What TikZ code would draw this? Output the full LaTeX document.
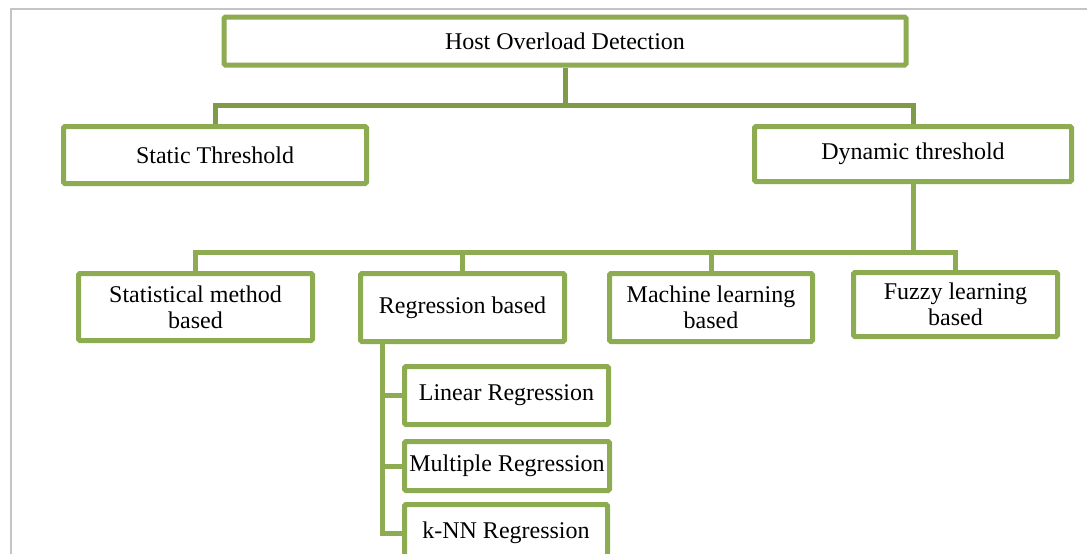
\documentclass[tikz,border=0pt]{standalone}
\usepackage{fontspec}
\setmainfont{Liberation Serif}
\definecolor{boxgreen}{HTML}{8DAB50}
\definecolor{dkgreen}{HTML}{7F9B48}
\definecolor{framegray}{HTML}{C4C4C4}
\begin{document}
\begin{tikzpicture}[x=1pt,y=-1pt,
  box/.style={draw=boxgreen, line width=5pt, rounded corners=1.5pt, fill=white,
    inner sep=0pt, align=center, font=\fontsize{24}{26}\selectfont},
  conn/.style={draw=boxgreen, line width=5pt},
  topconn/.style={draw=dkgreen, line width=5pt}]
\useasboundingbox (0,0) rectangle (1087,554);
\clip (0,0) rectangle (1087,554);
\draw[framegray, line width=1.5pt] (11,560) -- (11,9) -- (1090,9);

\node[box, minimum width=682pt, minimum height=48pt] (root) at (565,41) {Host Overload Detection};
\node[box, minimum width=303pt, minimum height=57pt] (static) at (215,155) {Static Threshold};
\node[box, minimum width=317pt, minimum height=55pt] (dynamic) at (913,154) {Dynamic threshold};

\node[box, minimum width=234pt, minimum height=67pt] (stat) at (195.5,307) {Statistical method\\based};
\node[box, minimum width=204pt, minimum height=68pt] (regr) at (462.5,307.5) {Regression based};
\node[box, minimum width=203pt, minimum height=68pt] (mach) at (711,307.5) {Machine learning\\based};
\node[box, minimum width=204pt, minimum height=64pt] (fuzzy) at (955.5,304.5) {Fuzzy learning\\based};

\node[box, minimum width=204pt, minimum height=58pt] (linear) at (506.5,395.5) {Linear Regression};
\node[box, minimum width=205pt, minimum height=49pt] (multiple) at (507,466) {Multiple Regression};
\node[box, minimum width=203pt, minimum height=57pt] (knn) at (506,533) {k-NN Regression};

\coordinate (b1) at (565,105);
\coordinate (b2) at (913,252);
\coordinate (r0) at (382,341.5);

\draw[topconn] (root.south) -- (b1);
\draw[topconn] (static.north) |- (b1) -| (dynamic.north);

\draw[conn] (dynamic.south) -- (b2);
\draw[conn] (stat.north) |- (b2) -| (fuzzy.north);
\draw[conn] (regr.north) -- (regr.north |- b2);
\draw[conn] (mach.north) -- (mach.north |- b2);

\draw[conn] (r0) |- (knn.west);
\draw[conn] (linear.west) -- (linear.west -| r0);
\draw[conn] (multiple.west) -- (multiple.west -| r0);
\end{tikzpicture}
\end{document}
